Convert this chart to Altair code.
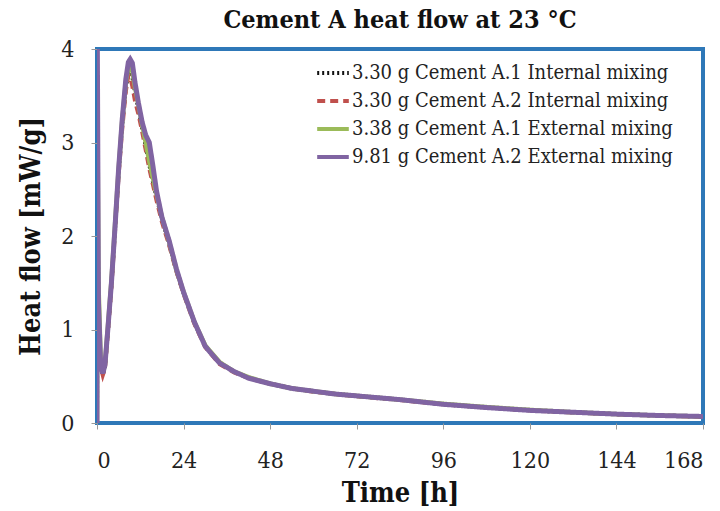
import altair as alt
import pandas as pd

series_names = [
    "3.30 g Cement A.1 Internal mixing",
    "3.30 g Cement A.2 Internal mixing",
    "3.38 g Cement A.1 External mixing",
    "9.81 g Cement A.2 External mixing",
]
series_colors = ["#111111", "#C0504D", "#9BBB59", "#8064A2"]
series_dash = [[2, 3], [8, 5], [1, 0], [1, 0]]
series_width = [4, 4, 4.5, 5]

time_h = [0, 0.1, 0.4, 1.0, 1.6, 2.2, 3, 4, 5, 6, 7, 8, 8.7, 9.2, 9.8, 10.5, 11.5,
          12.5, 13.5, 14.5, 15.5, 16.5, 18, 20, 22, 24, 27, 30, 34, 38, 42, 48, 54,
          60, 66, 72, 84, 96, 108, 120, 132, 144, 156, 168]

flow_a1_int = [0, 2.6, 1.2, 0.6, 0.52, 0.6, 0.98, 1.48, 2.08, 2.68, 3.2, 3.6, 3.74, 3.76,
               3.7, 3.55, 3.36, 3.16, 2.96, 2.76, 2.58, 2.42, 2.18, 1.92, 1.63, 1.39, 1.07,
               0.82, 0.64, 0.55, 0.48, 0.42, 0.37, 0.34, 0.31, 0.29, 0.25, 0.2, 0.165,
               0.135, 0.115, 0.095, 0.08, 0.07]
flow_a2_int = [0, 2.5, 1.15, 0.6, 0.51, 0.58, 0.95, 1.45, 2.05, 2.65, 3.15, 3.55, 3.72, 3.7,
               3.6, 3.45, 3.3, 3.12, 2.92, 2.72, 2.55, 2.38, 2.15, 1.9, 1.62, 1.38, 1.06,
               0.81, 0.63, 0.54, 0.48, 0.42, 0.37, 0.335, 0.31, 0.285, 0.245, 0.2, 0.165,
               0.135, 0.112, 0.093, 0.08, 0.065]
flow_a1_ext = [0, 3.45, 1.5, 0.7, 0.55, 0.63, 1.02, 1.52, 2.12, 2.72, 3.24, 3.65, 3.8, 3.82,
               3.76, 3.6, 3.4, 3.2, 3.0, 2.8, 2.62, 2.45, 2.2, 1.94, 1.64, 1.4, 1.08,
               0.83, 0.65, 0.55, 0.49, 0.42, 0.37, 0.34, 0.31, 0.29, 0.25, 0.205, 0.17,
               0.14, 0.115, 0.095, 0.08, 0.07]
flow_a2_ext = [0, 4.0, 1.3, 0.62, 0.53, 0.62, 1.0, 1.5, 2.1, 2.72, 3.25, 3.68, 3.86, 3.89,
               3.85, 3.65, 3.42, 3.22, 3.08, 3.0, 2.75, 2.48, 2.2, 1.95, 1.65, 1.4, 1.08,
               0.82, 0.64, 0.55, 0.48, 0.42, 0.37, 0.34, 0.31, 0.29, 0.25, 0.2, 0.165,
               0.135, 0.115, 0.095, 0.08, 0.07]

all_flows = [flow_a1_int, flow_a2_int, flow_a1_ext, flow_a2_ext]

rows = []
for order, (name, vals, w) in enumerate(zip(series_names, all_flows, series_width)):
    for t, v in zip(time_h, vals):
        rows.append({"series": name, "time": t, "flow": v, "order": order, "w": w})
df = pd.DataFrame(rows)

serif = "DejaVu Serif Condensed, DejaVu Serif"

chart = alt.Chart(df).mark_line(clip=True).encode(
    x=alt.X("time:Q", title="Time [h]",
            scale=alt.Scale(domain=[0, 168], nice=False, zero=False),
            axis=alt.Axis(values=[0, 24, 48, 72, 96, 120, 144, 168])),
    y=alt.Y("flow:Q", title="Heat flow [mW/g]",
            scale=alt.Scale(domain=[0, 4], nice=False),
            axis=alt.Axis(values=[0, 1, 2, 3, 4])),
    color=alt.Color("series:N", title=None,
                    scale=alt.Scale(domain=series_names, range=series_colors),
                    legend=alt.Legend(orient="none", legendX=218, legendY=6,
                                      symbolType="stroke", symbolSize=1000,
                                      symbolStrokeWidth=4, rowPadding=-3,
                                      labelFont=serif, labelFontSize=20,
                                      labelColor="#222222", labelOffset=1,
                                      labelLimit=500)),
    strokeDash=alt.StrokeDash("series:N", title=None,
                              scale=alt.Scale(domain=series_names, range=series_dash),
                              legend=None),
    strokeWidth=alt.StrokeWidth("w:Q", scale=None, legend=None),
    order="order:Q",
).properties(
    width=606,
    height=374,
    autosize=alt.AutoSizeParams(type="none"),
    padding={"left": 97, "top": 49, "right": 17, "bottom": 88},
    title=alt.TitleParams("Cement A heat flow at 23 °C", font=serif, fontSize=25,
                          fontWeight="bold", color="#111111", anchor="middle",
                          offset=5),
).configure_view(
    stroke="#2E78B8", strokeWidth=4
).configure_axis(
    grid=False, domain=False, tickColor="#999999", tickSize=6,
    labelFont=serif, labelFontSize=23, labelColor="#222222",
    titleFont=serif, titleFontSize=27, titleFontWeight="bold", titleColor="#111111",
).configure_axisX(labelPadding=20, titlePadding=8
).configure_axisY(labelPadding=17, titlePadding=15)

chart.save("out.html", embed_options={"renderer": "svg", "actions": False})
